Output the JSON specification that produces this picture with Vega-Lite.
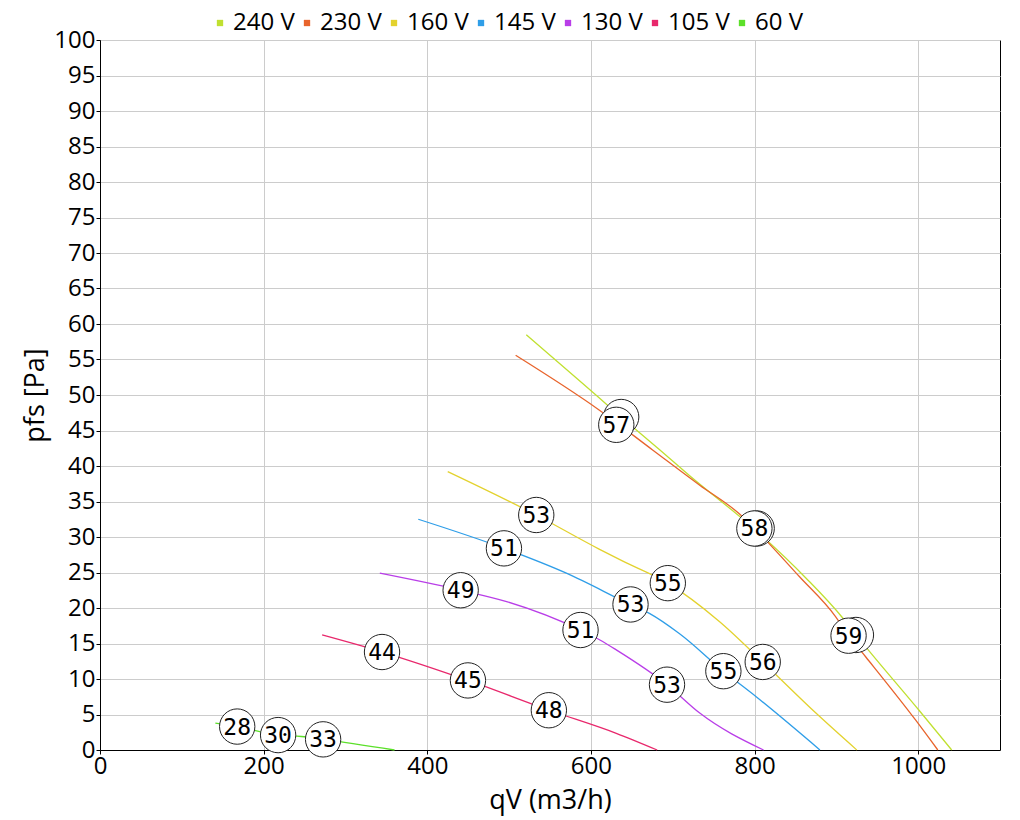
{
  "$schema": "https://vega.github.io/schema/vega-lite/v6.json",
  "width": 900,
  "height": 710,
  "autosize": {"type": "none"},
  "padding": {"left": 100, "top": 40, "right": 20, "bottom": 70},
  "background": "white",
  "config": {
    "font": "Open Sans",
    "view": {"stroke": "black", "strokeWidth": 1},
    "axis": {
      "labelFontSize": 24,
      "labelFont": "Open Sans",
      "labelColor": "black",
      "titleFontSize": 27,
      "titleFont": "Open Sans",
      "titleFontWeight": "normal",
      "titleColor": "black",
      "domainColor": "black",
      "tickColor": "black",
      "tickSize": 4,
      "gridColor": "#cccccc",
      "gridWidth": 1
    }
  },
  "datasets": {
    "curves": [
      {"series": "240 V", "q": 521, "p": 58.5},
      {"series": "240 V", "q": 610, "p": 49.6},
      {"series": "240 V", "q": 637, "p": 46.9},
      {"series": "240 V", "q": 684, "p": 42.3},
      {"series": "240 V", "q": 720, "p": 38.7},
      {"series": "240 V", "q": 802, "p": 30.9},
      {"series": "240 V", "q": 863, "p": 24.2},
      {"series": "240 V", "q": 907, "p": 18.7},
      {"series": "240 V", "q": 924, "p": 16.2},
      {"series": "240 V", "q": 944, "p": 13.4},
      {"series": "240 V", "q": 1001, "p": 5.6},
      {"series": "240 V", "q": 1041, "p": 0},
      {"series": "230 V", "q": 508, "p": 55.6},
      {"series": "230 V", "q": 610, "p": 47.9},
      {"series": "230 V", "q": 675, "p": 42.3},
      {"series": "230 V", "q": 733, "p": 37.3},
      {"series": "230 V", "q": 781, "p": 33.3},
      {"series": "230 V", "q": 800, "p": 31.2},
      {"series": "230 V", "q": 855, "p": 24.4},
      {"series": "230 V", "q": 899, "p": 18.8},
      {"series": "230 V", "q": 915, "p": 16.1},
      {"series": "230 V", "q": 936, "p": 13.1},
      {"series": "230 V", "q": 997, "p": 4.2},
      {"series": "230 V", "q": 1024, "p": 0},
      {"series": "160 V", "q": 425, "p": 39.2},
      {"series": "160 V", "q": 533, "p": 33.1},
      {"series": "160 V", "q": 610, "p": 28.3},
      {"series": "160 V", "q": 639, "p": 26.6},
      {"series": "160 V", "q": 694, "p": 23.5},
      {"series": "160 V", "q": 757, "p": 18.1},
      {"series": "160 V", "q": 810, "p": 12.4},
      {"series": "160 V", "q": 875, "p": 5.2},
      {"series": "160 V", "q": 925, "p": 0},
      {"series": "145 V", "q": 389, "p": 32.5},
      {"series": "145 V", "q": 494, "p": 28.4},
      {"series": "145 V", "q": 570, "p": 24.9},
      {"series": "145 V", "q": 648, "p": 20.5},
      {"series": "145 V", "q": 672, "p": 19.2},
      {"series": "145 V", "q": 708, "p": 16.4},
      {"series": "145 V", "q": 762, "p": 11.1},
      {"series": "145 V", "q": 802, "p": 7.5},
      {"series": "145 V", "q": 880, "p": 0},
      {"series": "130 V", "q": 342, "p": 24.9},
      {"series": "130 V", "q": 441, "p": 22.5},
      {"series": "130 V", "q": 497, "p": 20.9},
      {"series": "130 V", "q": 587, "p": 16.9},
      {"series": "130 V", "q": 611, "p": 15.5},
      {"series": "130 V", "q": 631, "p": 14.1},
      {"series": "130 V", "q": 693, "p": 9.2},
      {"series": "130 V", "q": 733, "p": 5.2},
      {"series": "130 V", "q": 811, "p": 0},
      {"series": "105 V", "q": 271.5, "p": 16.2},
      {"series": "105 V", "q": 345, "p": 13.8},
      {"series": "105 V", "q": 450, "p": 9.8},
      {"series": "105 V", "q": 549, "p": 5.6},
      {"series": "105 V", "q": 631, "p": 2.35},
      {"series": "105 V", "q": 681, "p": 0},
      {"series": "60 V", "q": 141, "p": 3.8},
      {"series": "60 V", "q": 168, "p": 3.3},
      {"series": "60 V", "q": 218, "p": 2.1},
      {"series": "60 V", "q": 246, "p": 1.9},
      {"series": "60 V", "q": 273, "p": 1.5},
      {"series": "60 V", "q": 360, "p": 0}
    ],
    "markers": [
      {"series": "240 V", "q": 637, "p": 46.9, "label": "57"},
      {"series": "240 V", "q": 802.6, "p": 31.2, "label": "58"},
      {"series": "240 V", "q": 923.9, "p": 16.2, "label": "59"},
      {"series": "230 V", "q": 631, "p": 45.8, "label": "57"},
      {"series": "230 V", "q": 799.8, "p": 31.2, "label": "58"},
      {"series": "230 V", "q": 914.9, "p": 16.1, "label": "59"},
      {"series": "160 V", "q": 533.2, "p": 33.1, "label": "53"},
      {"series": "160 V", "q": 694, "p": 23.5, "label": "55"},
      {"series": "160 V", "q": 810, "p": 12.4, "label": "56"},
      {"series": "145 V", "q": 493.7, "p": 28.4, "label": "51"},
      {"series": "145 V", "q": 648.4, "p": 20.5, "label": "53"},
      {"series": "145 V", "q": 761.9, "p": 11.1, "label": "55"},
      {"series": "130 V", "q": 440.8, "p": 22.5, "label": "49"},
      {"series": "130 V", "q": 587.3, "p": 16.9, "label": "51"},
      {"series": "130 V", "q": 693, "p": 9.2, "label": "53"},
      {"series": "105 V", "q": 344.7, "p": 13.8, "label": "44"},
      {"series": "105 V", "q": 449.7, "p": 9.8, "label": "45"},
      {"series": "105 V", "q": 548.6, "p": 5.6, "label": "48"},
      {"series": "60 V", "q": 167.7, "p": 3.3, "label": "28"},
      {"series": "60 V", "q": 217.7, "p": 2.1, "label": "30"},
      {"series": "60 V", "q": 272.7, "p": 1.5, "label": "33"}
    ]
  },
  "encoding": {
    "x": {
      "field": "q",
      "type": "quantitative",
      "scale": {"domain": [0, 1100], "nice": false, "zero": false},
      "axis": {"values": [0, 200, 400, 600, 800, 1000], "format": "d", "title": "qV (m3/h)", "labelPadding": 0, "titlePadding": 9, "labelFlush": false}
    },
    "y": {
      "field": "p",
      "type": "quantitative",
      "scale": {"domain": [0, 100], "nice": false, "zero": false},
      "axis": {"values": [0,5,10,15,20,25,30,35,40,45,50,55,60,65,70,75,80,85,90,95,100], "title": "pfs [Pa]", "labelPadding": 1, "titlePadding": 4, "labelFlush": false}
    }
  },
  "layer": [
    {
      "data": {"name": "curves"},
      "mark": {"type": "line", "strokeWidth": 1.3, "interpolate": "monotone"},
      "encoding": {
        "color": {
          "field": "series",
          "type": "nominal",
          "scale": {
            "domain": ["240 V", "230 V", "160 V", "145 V", "130 V", "105 V", "60 V"],
            "range": ["#c0e030", "#e8642c", "#e3d22e", "#2f9ee8", "#b93ee8", "#e8286c", "#5ce02a"]
          },
          "legend": {
            "title": null,
            "orient": "none",
            "direction": "horizontal",
            "legendX": 108,
            "legendY": -29,
            "symbolType": "square",
            "symbolSize": 40,
            "symbolStrokeWidth": 0,
            "labelFont": "Open Sans",
            "labelFontSize": 24,
            "labelColor": "black",
            "labelOffset": 1,
            "columnPadding": 0,
            "encode": {"symbols": {"update": {"fill": {"scale": "color", "field": "value"}, "fillOpacity": {"value": 1}}}}
          }
        }
      }
    },
    {
      "data": {"name": "markers"},
      "transform": [{"filter": "datum.series === '240 V'"}],
      "mark": {"type": "point", "shape": "circle", "filled": true, "fill": "white", "stroke": "#222222", "strokeWidth": 1, "size": 1250, "opacity": 1}
    },
    {
      "data": {"name": "markers"},
      "transform": [{"filter": "datum.series !== '240 V'"}],
      "mark": {"type": "point", "shape": "circle", "filled": true, "fill": "white", "stroke": "#222222", "strokeWidth": 1, "size": 1250, "opacity": 1}
    },
    {
      "data": {"name": "markers"},
      "transform": [{"filter": "datum.series !== '240 V'"}],
      "mark": {"type": "text", "font": "DejaVu Sans Mono", "fontSize": 23, "color": "black", "baseline": "middle", "align": "center", "dy": 1},
      "encoding": {"text": {"field": "label"}}
    }
  ]
}
